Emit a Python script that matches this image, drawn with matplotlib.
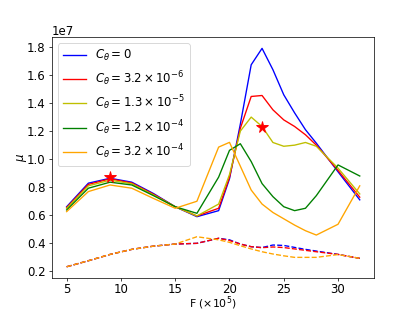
import matplotlib
matplotlib.use('Agg')
import matplotlib.pyplot as plt
import numpy as np

plt.rcParams['font.size'] = 13

# frequency grid (x 1e5)
F = [5, 7, 9, 11, 13, 15, 17, 19, 20, 21, 22, 23, 24, 25, 26, 27, 28, 30, 32]

labels = [r'$C_\theta=0$',
          r'$C_\theta=3.2\times10^{-6}$',
          r'$C_\theta=1.3\times10^{-5}$',
          r'$C_\theta=1.2\times10^{-4}$',
          r'$C_\theta=3.2\times10^{-4}$']
colors = ['blue', 'red', 'y', 'green', 'orange']

# solid curves (x 1e7)
mu_0    = [0.661, 0.829, 0.864, 0.836, 0.755, 0.661, 0.590, 0.633, 0.860, 1.250, 1.673, 1.790, 1.638, 1.459, 1.330, 1.210, 1.114, 0.910, 0.710]
mu_32e6 = [0.655, 0.820, 0.860, 0.830, 0.750, 0.661, 0.595, 0.650, 0.870, 1.220, 1.447, 1.454, 1.352, 1.280, 1.233, 1.174, 1.100, 0.920, 0.729]
mu_13e5 = [0.650, 0.810, 0.850, 0.825, 0.745, 0.661, 0.595, 0.680, 0.890, 1.200, 1.300, 1.233, 1.119, 1.092, 1.100, 1.119, 1.092, 0.936, 0.752]
mu_12e4 = [0.638, 0.793, 0.836, 0.816, 0.740, 0.661, 0.614, 0.872, 1.063, 1.110, 0.983, 0.826, 0.733, 0.661, 0.633, 0.650, 0.740, 0.959, 0.880]
mu_32e4 = [0.626, 0.769, 0.816, 0.793, 0.720, 0.650, 0.700, 1.086, 1.120, 0.950, 0.780, 0.680, 0.620, 0.575, 0.530, 0.490, 0.459, 0.536, 0.810]

# dashed curves (x 1e7)
d_0    = [0.233, 0.276, 0.321, 0.357, 0.380, 0.395, 0.400, 0.436, 0.425, 0.395, 0.376, 0.370, 0.388, 0.385, 0.371, 0.357, 0.345, 0.321, 0.293]
d_32e6 = [0.233, 0.276, 0.321, 0.357, 0.380, 0.395, 0.400, 0.436, 0.420, 0.395, 0.376, 0.369, 0.374, 0.370, 0.360, 0.350, 0.340, 0.321, 0.293]
d_32e4 = [0.233, 0.276, 0.321, 0.357, 0.380, 0.395, 0.447, 0.425, 0.407, 0.383, 0.360, 0.340, 0.324, 0.311, 0.300, 0.300, 0.300, 0.320, 0.293]

# star markers
star_x = [9, 23]
star_y = [0.87, 1.23]

solid = [mu_0, mu_32e6, mu_13e5, mu_12e4, mu_32e4]
dashed = {0: d_0, 1: d_32e6, 4: d_32e4}

fig, ax = plt.subplots(figsize=(6.4, 4.8), dpi=65)
for i, (vals, c, lab) in enumerate(zip(solid, colors, labels)):
    ax.plot(F, np.array(vals) * 1e7, color=c, label=lab)
for i, vals in dashed.items():
    ax.plot(F, np.array(vals) * 1e7, color=colors[i], linestyle='--')
ax.plot(star_x, np.array(star_y) * 1e7, '*', color='red', markersize=13, linestyle='none')

ax.tick_params(axis='x', pad=2)
ax.set_xlabel(r'F ($\times 10^5$)', fontsize=12, labelpad=-1)
ax.set_ylabel(r'$\mu$', labelpad=-2)
ax.legend(loc='upper left')
fig.savefig('out.png', dpi=65)
